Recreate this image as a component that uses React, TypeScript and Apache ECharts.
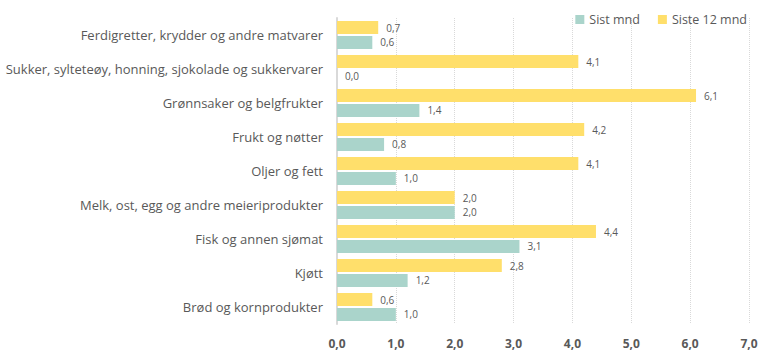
import React, { useEffect, useRef } from "react";
import * as echarts from "echarts";

const categories = [
  "Brød og kornprodukter",
  "Kjøtt",
  "Fisk og annen sjømat",
  "Melk, ost, egg og andre meieriprodukter",
  "Oljer og fett",
  "Frukt og nøtter",
  "Grønnsaker og belgfrukter",
  "Sukker, sylteteøy, honning, sjokolade og sukkervarer",
  "Ferdigretter, krydder og andre matvarer",
];
const sistMnd = [1.0, 1.2, 3.1, 2.0, 1.0, 0.8, 1.4, 0.0, 0.6];
const siste12Mnd = [0.6, 2.8, 4.4, 2.0, 4.1, 4.2, 6.1, 4.1, 0.7];
const xTicks = [0, 1, 2, 3, 4, 5, 6, 7];

const fmt = (v: number) => v.toFixed(1).replace(".", ",");
const FONT = "'Open Sans', 'Noto Sans', sans-serif";

export default function App() {
  const ref = useRef<HTMLDivElement>(null);
  useEffect(() => {
    document.body.style.margin = "0";
    if (!ref.current) return;
    const chart = echarts.init(ref.current, undefined, { renderer: "svg" });
    const labelCfg = {
      show: true,
      position: "right" as const,
      distance: 8,
      color: "#595959",
      fontSize: 10,
      fontFamily: FONT,
      formatter: (p: any) => fmt(p.value),
    };
    chart.setOption({
      animation: false,
      legend: {
        data: ["Sist mnd", "Siste 12 mnd"],
        right: 16,
        top: 8,
        itemWidth: 9,
        itemHeight: 9,
        itemGap: 18,
        icon: "rect",
        textStyle: { color: "#595959", fontSize: 12.5, fontFamily: FONT },
      },
      grid: { left: 337, right: 19, top: 18, bottom: 35, containLabel: false },
      xAxis: {
        type: "value",
        min: xTicks[0],
        max: xTicks[xTicks.length - 1],
        interval: 1,
        axisLine: { show: false },
        axisTick: { show: false },
        splitLine: { show: true, lineStyle: { color: "#d9d9d9", type: "dotted" } },
        axisLabel: {
          color: "#595959",
          fontWeight: "bold",
          fontSize: 12,
          fontFamily: FONT,
          margin: 13,
          formatter: (v: number) => fmt(v),
        },
      },
      yAxis: {
        type: "category",
        data: categories,
        axisLine: { show: true, lineStyle: { color: "#d9d9d9", width: 2 } },
        axisTick: { show: false },
        axisLabel: { color: "#595959", fontSize: 13, fontFamily: FONT, margin: 14 },
      },
      series: [
        {
          name: "Siste 12 mnd",
          type: "bar",
          data: siste12Mnd,
          barWidth: 13,
          barGap: "15%",
          itemStyle: { color: "#ffdf6b" },
          label: labelCfg,
        },
        {
          name: "Sist mnd",
          type: "bar",
          data: sistMnd,
          barWidth: 13,
          barGap: "15%",
          itemStyle: { color: "#aad4cb" },
          label: labelCfg,
        },
      ],
    });
    return () => chart.dispose();
  }, []);
  return <div ref={ref} style={{ width: 768, height: 359 }} />;
}
